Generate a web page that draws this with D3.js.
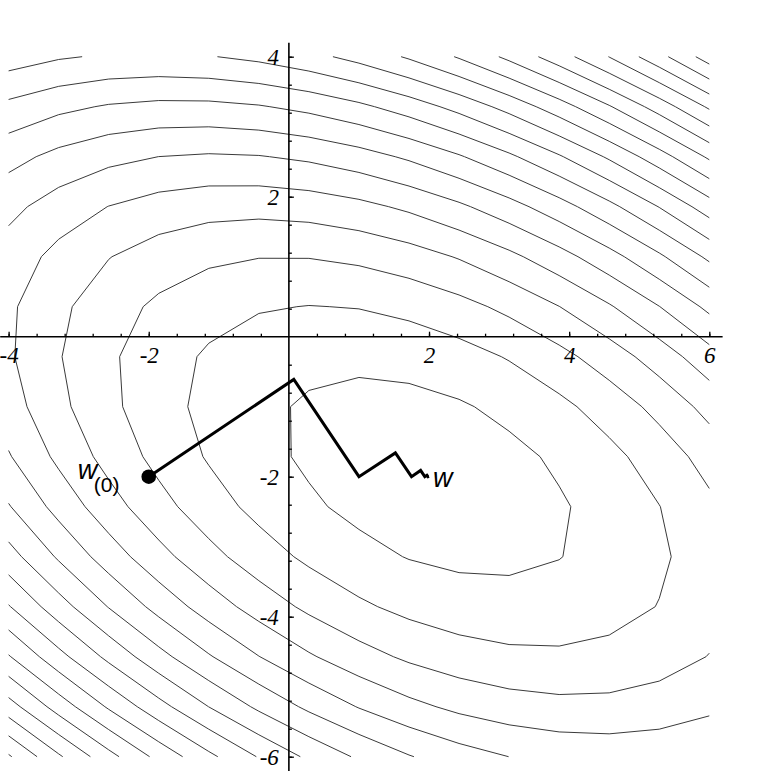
<!DOCTYPE html>
<html>
<head>
<meta charset="utf-8">
<script src="https://cdn.jsdelivr.net/npm/d3@7"></script>
<style>
  html, body { margin: 0; padding: 0; background: #fff; }
  svg { display: block; }
  .lbl { font-family: 'Liberation Serif', 'DejaVu Serif', serif; font-style: italic; font-size: 23px; fill: #000; }
</style>
</head>
<body>
<svg id="chart" width="776" height="771"></svg>
<script>
// ---- data ----
const xDomain = [-4, 6];
const yDomain = [-6, 4];
const gridSize = 15;                       // sample points per axis of the contour grid
const minimum = [2, -2];                   // centre of the quadratic bowl
const quadCoef = [1, 1.333, 2.01];         // f = a*u^2 + b*u*v + c*v^2
const levels = [3.4, 9.4, 15.4, 21.4, 27.4, 33.4, 39.4, 45.4, 51.4, 57.4,
                63.4, 69.4, 75.4, 81.4, 87.4, 93.4, 99.4, 105.4, 111.4, 117.4];
const pathX = [-2, 0.07, 1.0, 1.52, 1.75, 1.88, 1.94, 1.97, 1.985, 2.0];
const pathY = [-2, -0.61, -2.0, -1.66, -2.0, -1.91, -2.0, -1.98, -2.0, -1.995];
const xTickLabels = [-4, -2, 2, 4, 6];
const yTickLabels = [-6, -4, -2, 2, 4];
const tickStep = 0.4;

// ---- scales ----
const svg = d3.select("#chart");
const x = d3.scaleLinear().domain(xDomain).range([8.6, 709.3]);
const y = d3.scaleLinear().domain(yDomain).range([756.7, 56.7]);

// ---- contour grid ----
const f = (px, py) => {
  const u = px - minimum[0], v = py - minimum[1];
  return quadCoef[0] * u * u + quadCoef[1] * u * v + quadCoef[2] * v * v;
};
const gx = d3.range(gridSize).map(i => xDomain[0] + i * (xDomain[1] - xDomain[0]) / (gridSize - 1));
const gy = d3.range(gridSize).map(j => yDomain[0] + j * (yDomain[1] - yDomain[0]) / (gridSize - 1));
const val = gy.map(yy => gx.map(xx => f(xx, yy)));

function isolines(L) {
  const segs = [];
  const pt = (i0, j0, i1, j1) => {
    const a = val[j0][i0], b = val[j1][i1];
    const t = (L - a) / (b - a);
    return [gx[i0] + t * (gx[i1] - gx[i0]), gy[j0] + t * (gy[j1] - gy[j0])];
  };
  for (let j = 0; j < gridSize - 1; j++) {
    for (let i = 0; i < gridSize - 1; i++) {
      const edges = [
        [i, j, i + 1, j, "h" + i + "," + j],
        [i + 1, j, i + 1, j + 1, "v" + (i + 1) + "," + j],
        [i, j + 1, i + 1, j + 1, "h" + i + "," + (j + 1)],
        [i, j, i, j + 1, "v" + i + "," + j]
      ];
      const hits = [];
      edges.forEach(e => {
        const a = val[e[1]][e[0]], b = val[e[3]][e[2]];
        if ((a < L) !== (b < L)) hits.push({key: e[4], p: pt(e[0], e[1], e[2], e[3])});
      });
      if (hits.length === 2) segs.push(hits);
      else if (hits.length === 4) { segs.push([hits[0], hits[1]]); segs.push([hits[2], hits[3]]); }
    }
  }
  const byKey = new Map();
  segs.forEach((s, idx) => s.forEach(h => {
    if (!byKey.has(h.key)) byKey.set(h.key, []);
    byKey.get(h.key).push(idx);
  }));
  const used = new Array(segs.length).fill(false);
  const lines = [];
  const walk = (startIdx, startKey) => {
    const out = [];
    let idx = startIdx, key = startKey;
    const first = segs[idx].find(h => h.key === key);
    out.push(first.p);
    while (idx !== undefined && !used[idx]) {
      used[idx] = true;
      const other = segs[idx].find(h => h.key !== key) || segs[idx][1];
      out.push(other.p);
      key = other.key;
      idx = (byKey.get(key) || []).find(k => !used[k]);
    }
    return out;
  };
  byKey.forEach((list, key) => {
    if (list.length === 1 && !used[list[0]]) lines.push(walk(list[0], key));
  });
  segs.forEach((s, idx) => { if (!used[idx]) lines.push(walk(idx, s[0].key)); });
  return lines;
}

const line = d3.line().x(d => x(d[0])).y(d => y(d[1]));

const contourG = svg.append("g").attr("fill", "none").attr("stroke", "#3a3a3a").attr("stroke-width", 1);
levels.forEach(L => {
  isolines(L).forEach(pl => contourG.append("path").attr("d", line(pl)));
});

// ---- axes ----
const minorX = d3.range(xDomain[0], xDomain[1] + 1e-6, tickStep).map(v => +v.toFixed(2));
const minorY = d3.range(yDomain[0], yDomain[1] + 1e-6, tickStep).map(v => +v.toFixed(2));

svg.append("line").attr("x1", x(-4.12)).attr("x2", x(6.19)).attr("y1", y(0)).attr("y2", y(0))
  .attr("stroke", "#000").attr("stroke-width", 1.6);
svg.append("line").attr("x1", x(0)).attr("x2", x(0)).attr("y1", y(4.2)).attr("y2", y(-6.3))
  .attr("stroke", "#000").attr("stroke-width", 1.6);

const fmt = d => (d < 0 ? "-" : "") + Math.abs(d);

const gxMinor = svg.append("g").attr("transform", `translate(0,${y(0)})`)
  .call(d3.axisBottom(x).tickValues(minorX.filter(v => Math.abs(v) > 1e-6)).tickSizeInner(-3).tickSizeOuter(0));
gxMinor.select(".domain").remove();
gxMinor.selectAll("text").remove();

const gxMajor = svg.append("g").attr("transform", `translate(0,${y(0)})`)
  .call(d3.axisBottom(x).tickValues(xTickLabels).tickSizeInner(-5).tickSizeOuter(0).tickPadding(10).tickFormat(fmt));
gxMajor.select(".domain").remove();
gxMajor.attr("font-size", null).attr("font-family", null);
gxMajor.selectAll("text").attr("class", "lbl");

const gyMinor = svg.append("g").attr("transform", `translate(${x(0)},0)`)
  .call(d3.axisLeft(y).tickValues(minorY.filter(v => Math.abs(v) > 1e-6)).tickSizeInner(-3).tickSizeOuter(0));
gyMinor.select(".domain").remove();
gyMinor.selectAll("text").remove();

const gyMajor = svg.append("g").attr("transform", `translate(${x(0)},0)`)
  .call(d3.axisLeft(y).tickValues(yTickLabels).tickSizeInner(-5).tickSizeOuter(0).tickPadding(10).tickFormat(fmt));
gyMajor.select(".domain").remove();
gyMajor.attr("font-size", null).attr("font-family", null);
gyMajor.selectAll("text").attr("class", "lbl");

svg.selectAll(".tick line").attr("stroke", "#000").attr("stroke-width", 1.3);

// ---- descent path ----
const pathPts = pathX.map((v, i) => [v, pathY[i]]);
svg.append("path").attr("d", line(pathPts)).attr("fill", "none")
  .attr("stroke", "#000").attr("stroke-width", 3).attr("stroke-linejoin", "miter");
svg.append("circle").attr("cx", x(pathX[0])).attr("cy", y(pathY[0])).attr("r", 7.3).attr("fill", "#000");

// ---- labels ----
const sansFam = "'Liberation Sans', Arial, sans-serif";
svg.append("text").attr("x", x(pathX[0]) - 71).attr("y", y(pathY[0]) + 2)
  .style("font-family", sansFam).style("font-style", "italic").style("font-size", "27px").text("w");
svg.append("text").attr("x", x(pathX[0]) - 55).attr("y", y(pathY[0]) + 15)
  .style("font-family", sansFam).style("font-size", "21px").text("(0)");
svg.append("text").attr("x", x(pathX[pathX.length - 1]) + 4).attr("y", y(pathY[pathY.length - 1]) + 11)
  .style("font-family", sansFam).style("font-style", "italic").style("font-size", "27px").text("w");
</script>
</body>
</html>
